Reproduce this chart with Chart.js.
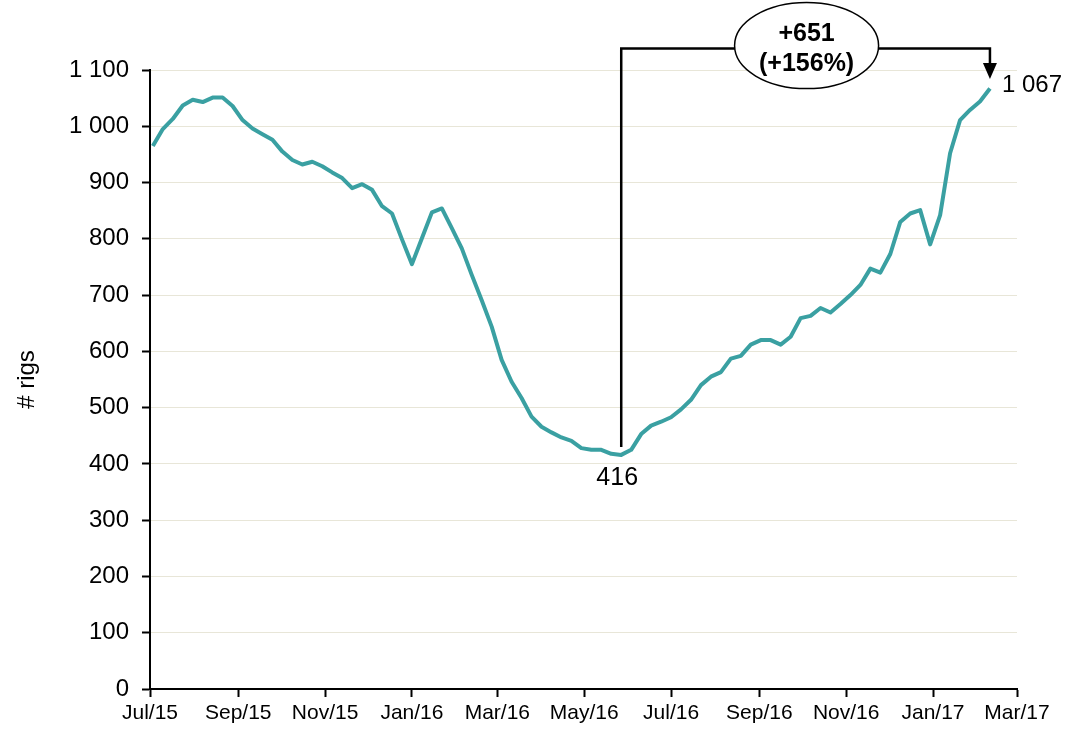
<!DOCTYPE html>
<html>
<head>
<meta charset="utf-8">
<script src="https://cdn.jsdelivr.net/npm/chart.js@4.4.1/dist/chart.umd.min.js"></script>
<style>
  html, body { margin: 0; padding: 0; background: #fff; }
  #wrap { width: 1068px; height: 733px; position: relative; }
</style>
</head>
<body>
<div id="wrap"><canvas id="rigChart"></canvas></div>
<script>
// weekly rig count, first reading Fri 3 Jul 2015
const firstDay = 2; // days after 1 Jul 2015
const rigs = [
  965, 995, 1013, 1037, 1047, 1043, 1051, 1051, 1036, 1011,
  996, 986, 976, 955, 940, 932, 937, 929, 918, 908,
  890, 897, 887, 858, 845, 799, 755, 801, 847, 854,
  819, 783, 736, 691, 644, 585, 546, 517, 484, 466,
  456, 447, 441, 428, 425, 425, 418, 416, 425, 453,
  468, 475, 483, 497, 514, 540, 555, 563, 587, 592,
  612, 620, 620, 612, 626, 659, 663, 677, 669, 684,
  700, 718, 747, 740, 773, 830, 845, 851, 790, 842,
  952, 1011, 1029, 1044, 1067
];
// month ticks, days after 1 Jul 2015
const tickDays = [0, 62, 123, 184, 244, 305, 366, 428, 489, 550, 609];
const tickLabels = ['Jul/15', 'Sep/15', 'Nov/15', 'Jan/16', 'Mar/16', 'May/16', 'Jul/16', 'Sep/16', 'Nov/16', 'Jan/17', 'Mar/17'];

const lowIdx = 47;
const highIdx = rigs.length - 1;

const FONT = '"Liberation Sans", Arial, sans-serif';

function spaced(v) {
  return String(v).replace(/\B(?=(\d{3})+(?!\d))/g, ' ');
}

const points = rigs.map((v, i) => ({ x: firstDay + 7 * i, y: v }));

const annotate = {
  id: 'annotate',
  afterDatasetsDraw(chart) {
    const { ctx, scales: { x, y } } = chart;
    const low = points[lowIdx], high = points[highIdx];
    const xl = x.getPixelForValue(low.x);
    const xh = x.getPixelForValue(high.x);
    const yTop = y.getPixelForValue(1138);
    const yLowEnd = y.getPixelForValue(430);
    const yArrowTip = y.getPixelForValue(1084);
    ctx.save();
    ctx.strokeStyle = '#000';
    ctx.lineWidth = 2.5;
    ctx.beginPath();
    ctx.moveTo(xl, yLowEnd);
    ctx.lineTo(xl, yTop);
    ctx.lineTo(xh, yTop);
    ctx.lineTo(xh, yArrowTip - 14);
    ctx.stroke();
    ctx.fillStyle = '#000';
    ctx.beginPath();
    ctx.moveTo(xh - 7, yArrowTip - 16);
    ctx.lineTo(xh + 7, yArrowTip - 16);
    ctx.lineTo(xh, yArrowTip);
    ctx.closePath();
    ctx.fill();

    // bubble with change
    const cx = (xl + xh) / 2 + 1, cy = yTop - 3;
    ctx.beginPath();
    ctx.ellipse(cx, cy, 72, 43, 0, 0, Math.PI * 2);
    ctx.fillStyle = '#fff';
    ctx.fill();
    ctx.lineWidth = 1.5;
    ctx.stroke();
    ctx.fillStyle = '#000';
    ctx.textAlign = 'center';
    ctx.textBaseline = 'middle';
    ctx.font = 'bold 25px ' + FONT;
    const diff = high.y - low.y;
    ctx.fillText('+' + diff, cx, cy - 12);
    ctx.fillText('(+' + Math.round(diff / low.y * 100) + '%)', cx, cy + 18);

    // end labels
    ctx.font = '25px ' + FONT;
    ctx.fillText(spaced(low.y), xl - 4, y.getPixelForValue(low.y) + 23);
    ctx.textAlign = 'left';
    ctx.font = '24px ' + FONT;
    ctx.fillText(spaced(high.y), xh + 12, y.getPixelForValue(high.y) - 3);

    // axis title
    ctx.translate(27, (chart.chartArea.top + chart.chartArea.bottom) / 2);
    ctx.rotate(-Math.PI / 2);
    ctx.textAlign = 'center';
    ctx.font = '24px ' + FONT;
    ctx.fillText('# rigs', 0, 0);
    ctx.restore();
  }
};

new Chart(document.getElementById('rigChart'), {
  type: 'line',
  data: {
    datasets: [{
      data: points,
      borderColor: '#3aa0a2',
      borderWidth: 4,
      pointRadius: 0,
      tension: 0,
      fill: false,
      borderJoinStyle: 'round'
    }]
  },
  options: {
    responsive: true,
    maintainAspectRatio: false,
    animation: false,
    layout: { padding: { top: 70, right: 51, left: 0, bottom: 0 } },
    plugins: { legend: { display: false }, tooltip: { enabled: false } },
    scales: {
      x: {
        type: 'linear',
        min: 0,
        max: 609,
        afterBuildTicks: (scale) => { scale.ticks = tickDays.map(v => ({ value: v })); },
        afterFit: (scale) => { scale.height = 44; },
        ticks: {
          autoSkip: false,
          maxRotation: 0,
          padding: 4,
          color: '#000',
          font: { family: FONT, size: 21 },
          callback: (v) => tickLabels[tickDays.indexOf(v)] || ''
        },
        grid: { drawOnChartArea: false, drawTicks: true, tickLength: 8, tickColor: '#000', tickWidth: 2 },
        border: { color: '#000', width: 2 }
      },
      y: {
        min: 0,
        max: 1100,
        afterFit: (scale) => { scale.width = 150; },
        ticks: {
          stepSize: 100,
          padding: 13,
          color: '#000',
          font: { family: FONT, size: 24 },
          callback: (v) => spaced(v)
        },
        grid: { color: '#e8e6d8', lineWidth: 1, tickLength: 8, tickColor: '#000', tickWidth: 2 },
        border: { color: '#000', width: 2 }
      }
    }
  },
  plugins: [annotate]
});
</script>
</body>
</html>
